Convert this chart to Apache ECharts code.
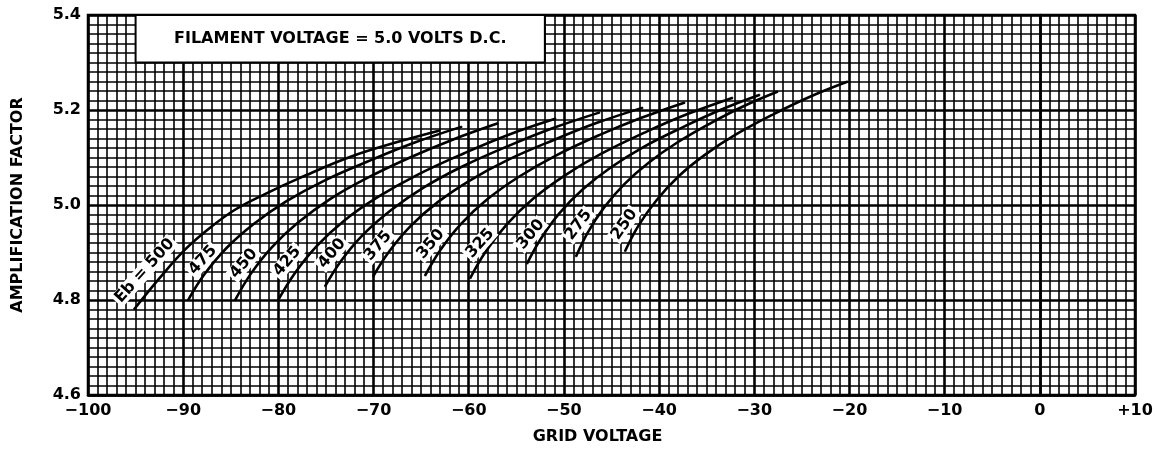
<!DOCTYPE html>
<html>
<head>
<meta charset="utf-8">
<script src="https://cdn.jsdelivr.net/npm/echarts@6/dist/echarts.min.js"></script>
<style>
  html, body { margin: 0; background: #fff; }
  #chart { width: 1157px; height: 450px; }
</style>
</head>
<body>
<div id="chart"></div>
<script>
// plate voltage curves: [grid voltage, amplification factor]
const eb500 = [[-95.17, 4.780], [-92.44, 4.847], [-89.81, 4.906], [-87.18, 4.952], [-84.56, 4.990], [-81.41, 5.023], [-77.73, 5.057], [-72.48, 5.101], [-67.23, 5.134], [-63.03, 5.157]]
const eb475 = [[-89.50, 4.799], [-87.77, 4.854], [-85.47, 4.909], [-82.59, 4.960], [-79.14, 5.008], [-75.11, 5.052], [-70.21, 5.095], [-65.60, 5.132], [-60.71, 5.165]]
const eb450 = [[-84.56, 4.799], [-82.90, 4.855], [-80.69, 4.911], [-77.93, 4.963], [-74.61, 5.012], [-70.75, 5.056], [-66.05, 5.101], [-61.63, 5.138], [-56.93, 5.172]]
const eb425 = [[-80.04, 4.799], [-78.29, 4.856], [-75.95, 4.914], [-73.03, 4.968], [-69.53, 5.017], [-65.44, 5.063], [-60.48, 5.109], [-55.80, 5.148], [-50.84, 5.182]]
const eb400 = [[-75.11, 4.828], [-73.38, 4.883], [-71.07, 4.938], [-68.18, 4.989], [-64.71, 5.037], [-60.67, 5.081], [-55.75, 5.125], [-51.13, 5.162], [-46.22, 5.195]]
const eb375 = [[-70.06, 4.849], [-68.36, 4.902], [-66.09, 4.956], [-63.25, 5.006], [-59.85, 5.052], [-55.88, 5.095], [-51.06, 5.137], [-46.52, 5.173], [-41.70, 5.205]]
const eb350 = [[-64.60, 4.851], [-62.96, 4.906], [-60.78, 4.961], [-58.05, 5.012], [-54.77, 5.059], [-50.95, 5.103], [-46.30, 5.147], [-41.93, 5.183], [-37.29, 5.216]]
const eb325 = [[-59.87, 4.845], [-58.21, 4.902], [-56.00, 4.959], [-53.24, 5.013], [-49.93, 5.062], [-46.06, 5.108], [-41.36, 5.154], [-36.95, 5.192], [-32.25, 5.226]]
const eb300 = [[-53.89, 4.876], [-52.42, 4.929], [-50.46, 4.983], [-48.01, 5.033], [-45.08, 5.079], [-41.65, 5.122], [-37.49, 5.164], [-33.57, 5.200], [-29.41, 5.232]]
const eb275 = [[-48.74, 4.891], [-47.47, 4.943], [-45.77, 4.995], [-43.65, 5.044], [-41.10, 5.089], [-38.13, 5.131], [-34.52, 5.173], [-31.13, 5.208], [-27.52, 5.239]]
const eb250 = [[-43.59, 4.902], [-42.18, 4.956], [-40.31, 5.009], [-37.97, 5.060], [-35.16, 5.106], [-31.88, 5.149], [-27.90, 5.192], [-24.15, 5.228], [-20.17, 5.260]]

const curves = [eb500, eb475, eb450, eb425, eb400, eb375, eb350, eb325, eb300, eb275, eb250]
const curveNames = ['Eb = 500', '475', '450', '425', '400', '375', '350', '325', '300', '275', '250']

const xTicks = [-100, -90, -80, -70, -60, -50, -40, -30, -20, -10, 0, 10]
const yTicks = [4.6, 4.8, 5.0, 5.2, 5.4]
const noteText = 'FILAMENT VOLTAGE = 5.0 VOLTS D.C.'

const FONT = 'DejaVu Sans'

// where each curve label sits next to the foot of its curve: [along, across, angle]
const labelPlace = [
  [36, -18, 48], [40, -16, 48], [34, -17, 50], [36, -18, 50], [30, -16, 50], [27, -16, 50],
  [28, -16, 50], [33, -16, 48], [25, -16, 50], [27, -17, 53], [22, -16, 55]
]

const chart = echarts.init(document.getElementById('chart'))

const series = curves.map((pts, k) => ({
  name: curveNames[k],
  type: 'line',
  smooth: 0.4,
  symbol: 'circle',
  symbolSize: 1,
  showSymbol: true,
  showAllSymbol: true,
  animation: false,
  z: 5,
  itemStyle: { color: '#000' },
  lineStyle: { color: '#000', width: 2.6 },
  data: pts.map((p, i) => i === 0 ? {
    value: p,
    label: {
      show: true,
      formatter: curveNames[k],
      position: 'inside',
      rotate: labelPlace[k][2],
      offset: [labelPlace[k][0], labelPlace[k][1]],
      color: '#000',
      fontFamily: FONT,
      fontWeight: 'bold',
      fontSize: 16,
      backgroundColor: '#fff',
      padding: [0, 2]
    }
  } : p)
}))

// note box in the upper left corner of the grid
series[0].markArea = {
  silent: true,
  itemStyle: { color: '#fff', borderColor: '#000', borderWidth: 2 },
  label: {
    show: true,
    position: 'inside',
    formatter: noteText,
    color: '#000',
    fontFamily: FONT,
    fontWeight: 'bold',
    fontSize: 16
  },
  data: [[{ coord: [-95, 5.3] }, { coord: [-52, 5.4] }]]
}

const fmtX = v => v > 0 ? '+' + v : (v < 0 ? '\u2212' + (-v) : '0')

chart.setOption({
  backgroundColor: '#fff',
  animation: false,
  grid: {
    left: 88, right: 22, top: 15, bottom: 53,
    show: true, borderColor: '#000', borderWidth: 2.5, backgroundColor: '#fff'
  },
  xAxis: {
    type: 'value',
    min: xTicks[0],
    max: xTicks[xTicks.length - 1],
    interval: 10,
    name: 'GRID VOLTAGE',
    nameLocation: 'middle',
    nameGap: 34,
    nameTextStyle: { color: '#000', fontFamily: FONT, fontWeight: 'bold', fontSize: 16, padding: [0, 28, 0, 0] },
    axisLine: { lineStyle: { color: '#000', width: 2.5 } },
    axisTick: { show: false },
    axisLabel: { color: '#000', fontFamily: FONT, fontWeight: 'bold', fontSize: 16, margin: 8, formatter: fmtX },
    splitLine: { show: true, lineStyle: { color: '#000', width: 2.6 } },
    minorTick: { show: false, splitNumber: 10 },
    minorSplitLine: { show: true, lineStyle: { color: '#000', width: 1.6 } }
  },
  yAxis: {
    type: 'value',
    min: yTicks[0],
    max: yTicks[yTicks.length - 1],
    interval: 0.2,
    name: 'AMPLIFICATION FACTOR',
    nameLocation: 'middle',
    nameGap: 62,
    nameTextStyle: { color: '#000', fontFamily: FONT, fontWeight: 'bold', fontSize: 16 },
    axisLine: { show: true, lineStyle: { color: '#000', width: 2.5 } },
    axisTick: { show: false },
    axisLabel: { color: '#000', fontFamily: FONT, fontWeight: 'bold', fontSize: 16, margin: 7, formatter: v => v.toFixed(1) },
    splitLine: { show: true, lineStyle: { color: '#000', width: 2.6 } },
    minorTick: { show: false, splitNumber: 10 },
    minorSplitLine: { show: true, lineStyle: { color: '#000', width: 1.6 } }
  },
  series: series
})
</script>
</body>
</html>
